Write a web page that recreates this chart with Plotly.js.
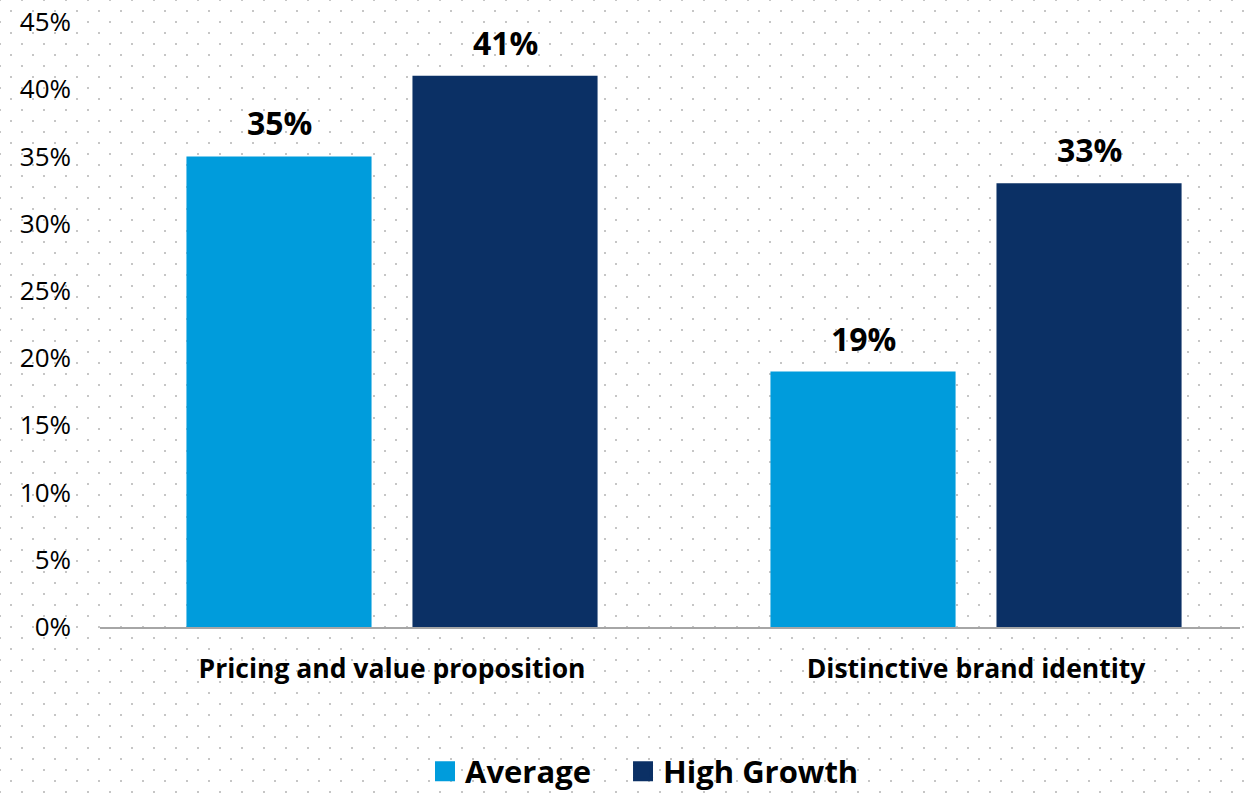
<!DOCTYPE html>
<html>
<head>
<meta charset="utf-8">
<script src="https://cdn.plot.ly/plotly-3.0.1.min.js"></script>
<style>
  html, body { margin: 0; padding: 0; background: #ffffff; }
  body {
    width: 1251px; height: 795px; overflow: hidden;
    background-image:
      radial-gradient(circle, #c6c6c6 1.2px, transparent 1.4px),
      radial-gradient(circle, #c6c6c6 1.2px, transparent 1.4px);
    background-size: 22px 22px, 22px 22px;
    background-position: 0px 0px, 11px 11px;
  }
  #chart { width: 1251px; height: 795px; }
</style>
</head>
<body>
<div id="chart"></div>
<script>
const categories = ["Pricing and value proposition", "Distinctive brand identity"];
const seriesNames = ["Average", "High Growth"];
const averageValues = [35, 19];
const highGrowthValues = [41, 33];
const yTicks = [0, 5, 10, 15, 20, 25, 30, 35, 40, 45];
const yTickLabels = yTicks.map(v => v + "%");

const fontFamily = "'Open Sans', sans-serif";
const colors = ["#009cdc", "#0b3065"];

function barTrace(name, values, color) {
  return {
    type: "bar", name: name, x: categories, y: values,
    marker: { color: color, line: { width: 0 } },
    hoverinfo: "skip", showlegend: false
  };
}
function legendTrace(name, color, legendId) {
  return {
    type: "scatter", mode: "markers", name: name, legend: legendId,
    x: [categories[0]], y: [null],
    marker: { symbol: "square", size: 16, color: color, line: { width: 4, color: color } },
    hoverinfo: "skip", showlegend: true
  };
}

const traces = [
  barTrace(seriesNames[0], averageValues, colors[0]),
  barTrace(seriesNames[1], highGrowthValues, colors[1]),
  legendTrace(seriesNames[0], colors[0], "legend"),
  legendTrace(seriesNames[1], colors[1], "legend2")
];

// value labels above bars, positioned through the axes (offset = half a bar slot)
const slotShift = 113;
const annotations = [];
[averageValues, highGrowthValues].forEach((vals, s) => {
  vals.forEach((v, i) => {
    annotations.push({
      x: categories[i], y: v, xref: "x", yref: "y",
      text: "<b>" + v + "%</b>", showarrow: false,
      xanchor: "center", yanchor: "bottom",
      xshift: s === 0 ? -slotShift : slotShift, yshift: 10,
      font: { family: fontFamily, size: 32, color: "#000000" }
    });
  });
});

const legendFont = { family: fontFamily, size: 31, color: "#000000", weight: "bold" };

const layout = {
  width: 1251, height: 795,
  paper_bgcolor: "rgba(0,0,0,0)", plot_bgcolor: "rgba(0,0,0,0)",
  margin: { l: 100, r: 11, t: 22, b: 168, autoexpand: false },
  barmode: "group", bargap: 0.226, bargroupgap: 0.181,
  showlegend: true,
  legend: {
    orientation: "h", x: 0.2851, xanchor: "left", y: -0.239, yanchor: "middle",
    font: legendFont, itemwidth: 30, bgcolor: "rgba(0,0,0,0)"
  },
  legend2: {
    orientation: "h", x: 0.4588, xanchor: "left", y: -0.239, yanchor: "middle",
    font: legendFont, itemwidth: 30, bgcolor: "rgba(0,0,0,0)"
  },
  annotations: annotations,
  xaxis: {
    type: "category", range: [-0.5, 1.452],
    showline: true, linecolor: "#a6a6a6", linewidth: 2,
    showgrid: false, zeroline: false, ticks: "",
    tickfont: { family: fontFamily, size: 26.5, color: "#000000", weight: "bold" },
    ticklabelstandoff: 17
  },
  yaxis: {
    range: [0, 45], tickvals: yTicks, ticktext: yTickLabels,
    showgrid: false, zeroline: false, showline: false, ticks: "",
    tickfont: { family: fontFamily, size: 26, color: "#000000" },
    ticklabelstandoff: 28
  },
  font: { family: fontFamily }
};

Plotly.newPlot("chart", traces, layout, { staticPlot: true, displayModeBar: false });
</script>
</body>
</html>
